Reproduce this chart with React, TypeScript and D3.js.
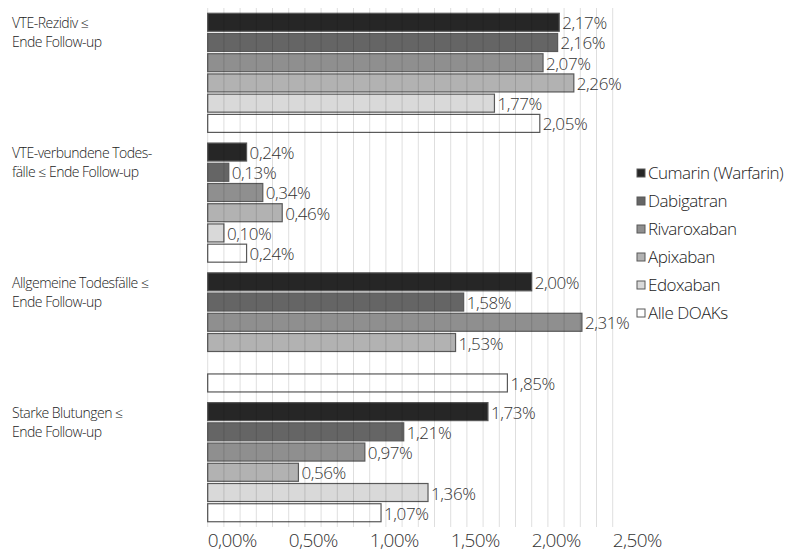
import React from "react";
import * as d3 from "d3";

const categories = [
  ["VTE-Rezidiv ≤", "Ende Follow-up"],
  ["VTE-verbundene Todes-", "fälle ≤ Ende Follow-up"],
  ["Allgemeine Todesfälle ≤", "Ende Follow-up"],
  ["Starke Blutungen ≤", "Ende Follow-up"],
];
const seriesNames = ["Cumarin (Warfarin)", "Dabigatran", "Rivaroxaban", "Apixaban", "Edoxaban", "Alle DOAKs"];
const cumarin = [2.17, 0.24, 2.0, 1.73];
const dabigatran = [2.16, 0.13, 1.58, 1.21];
const rivaroxaban = [2.07, 0.34, 2.31, 0.97];
const apixaban = [2.26, 0.46, 1.53, 0.56];
const edoxaban: (number | null)[] = [1.77, 0.1, null, 1.36];
const alleDoaks = [2.05, 0.24, 1.85, 1.07];
const xTicks = [0, 0.5, 1.0, 1.5, 2.0, 2.5];
const seriesColors = ["#262626", "#656565", "#8f8f8f", "#b2b2b2", "#d9d9d9", "#ffffff"];

const seriesValues = [cumarin, dabigatran, rivaroxaban, apixaban, edoxaban, alleDoaks];

const fmt = (v: number) => d3.format(".2f")(v).replace(".", ",") + "%";

export default function App() {
  const W = 810, H = 552;
  const x = d3.scaleLinear().domain([0, 2.5]).range([207.7, 612.7]);
  const y0 = d3.scaleBand<number>().domain(d3.range(categories.length)).range([8, 527]).paddingInner(0.065).paddingOuter(0.032);
  const y1 = d3.scaleBand<number>().domain(d3.range(seriesNames.length)).range([0, y0.bandwidth()]).paddingInner(0.11).paddingOuter(0.055);
  const minor = d3.range(0, 26).map((i) => i / 10);
  const font = "'Open Sans', 'DejaVu Sans', sans-serif";
  const legendY = d3.scaleLinear().domain([0, 5]).range([173, 313]);

  return (
    <svg width={W} height={H} style={{ position: "absolute", left: 0, top: 0, background: "#fff" }}>
      {categories.map((cat, ci) =>
        seriesValues.map((vals, si) => {
          const v = vals[ci];
          if (v == null) return null;
          const yy = (y0(ci) as number) + (y1(si) as number);
          return (
            <rect key={`b${ci}-${si}`} x={x(0)} y={yy} width={x(v) - x(0)} height={y1.bandwidth()}
              fill={seriesColors[si]} stroke="#595959" strokeWidth={1.2} />
          );
        })
      )}
      {minor.map((t) => (
        <line key={`g${t}`} x1={x(t)} x2={x(t)} y1={8} y2={527} stroke="#000" strokeOpacity={0.13} strokeWidth={1} />
      ))}
      {categories.map((cat, ci) =>
        seriesValues.map((vals, si) => {
          const v = vals[ci];
          if (v == null) return null;
          const yy = (y0(ci) as number) + (y1(si) as number);
          return (
            <text key={`l${ci}-${si}`} x={x(v) + 3} y={yy + y1.bandwidth() - 2} fontFamily={font} fontWeight={300}
              fontSize={17} letterSpacing={-0.4} fill="#333">{fmt(v)}</text>
          );
        })
      )}
      {categories.map((cat, ci) => (
        <text key={`c${ci}`} x={12} fontFamily={font} fontWeight={300} fontSize={14} fill="#222" letterSpacing={-0.5}>
          <tspan x={12} y={(y0(ci) as number) + 16}>{cat[0]}</tspan>
          <tspan x={12} y={(y0(ci) as number) + 35}>{cat[1]}</tspan>
        </text>
      ))}
      {xTicks.map((t) => (
        <text key={`t${t}`} x={x(t)} y={547} fontFamily={font} fontWeight={300} fontSize={19} letterSpacing={-0.6} fill="#333">
          {fmt(t)}
        </text>
      ))}
      {seriesNames.map((n, si) => (
        <g key={`lg${si}`} transform={`translate(637,${legendY(si)})`}>
          <rect x={0} y={-4} width={8} height={8} fill={seriesColors[si]} stroke="#595959" strokeWidth={1} />
          <text x={11} y={6} fontFamily={font} fontWeight={300} fontSize={17} letterSpacing={-0.5} fill="#222">{n}</text>
        </g>
      ))}
    </svg>
  );
}
